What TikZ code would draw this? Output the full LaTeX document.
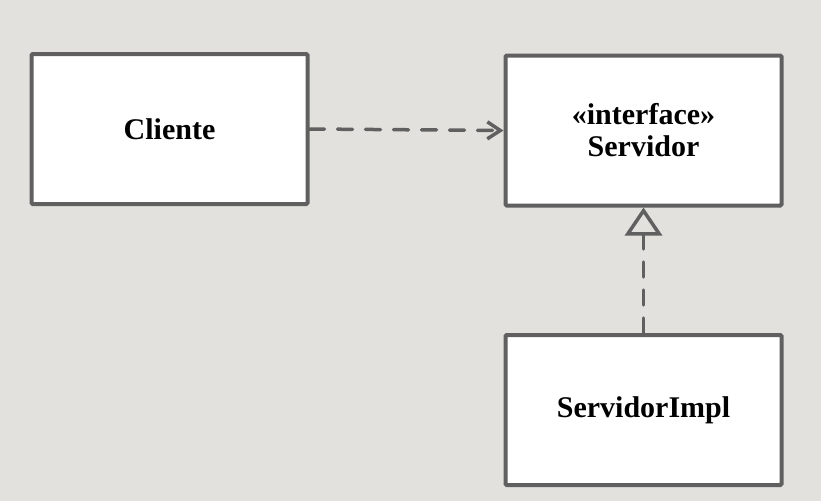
\documentclass[tikz,border=0pt]{standalone}
\usepackage{fontspec}
\setmainfont{Liberation Serif}
\usetikzlibrary{arrows.meta}
\definecolor{bg}{HTML}{E2E1DD}
\definecolor{ln}{HTML}{606060}
\tikzset{
  cls/.style={draw=ln, line width=4pt, fill=white, rounded corners=1.2pt,
    minimum width=276pt, minimum height=150pt, inner sep=0pt, align=center,
    font=\fontsize{30}{32}\selectfont\bfseries},
  dep/.style={draw=ln, line width=3.5pt, dash pattern=on 15pt off 13pt, line cap=round},
}
\begin{document}
\begin{tikzpicture}[x=1pt,y=-1pt]
\fill[bg] (0,0) rectangle (821,501);
\useasboundingbox (0,0) rectangle (821,501);
\node[cls] (cli) at (169.5,129) {Cliente};
\node[cls] (srv) at (643.5,130.5) {«interface»\\Servidor};
\node[cls] (impl) at (643.5,410) {ServidorImpl};
\draw[dep, -{Straight Barb[length=13pt,width=17pt,line cap=butt]}] (cli.east) -- (srv.west);
\draw[dep, -{Triangle[open, length=28pt, width=37pt, fill=bg, line cap=butt]}] (impl.north) -- (srv.south);
\end{tikzpicture}
\end{document}
